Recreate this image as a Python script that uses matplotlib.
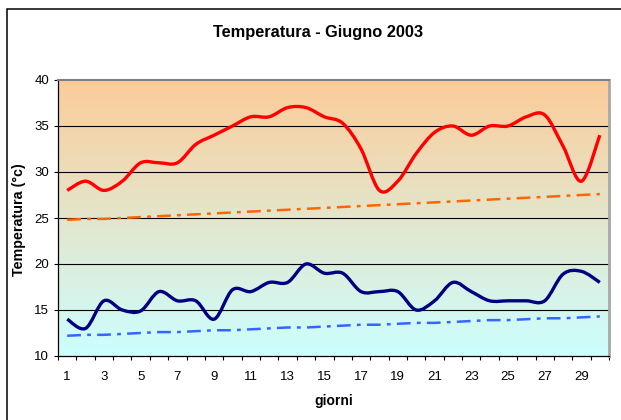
#!/usr/bin/env python3

import numpy as np
import matplotlib
matplotlib.use('Agg')
import matplotlib.pyplot as plt
from matplotlib.path import Path
from matplotlib.patches import PathPatch, Rectangle
from matplotlib.colors import LinearSegmentedColormap

# temperature giornaliere di giugno 2003
days = list(range(1, 31))
t_max = [28, 29, 28, 29, 31, 31, 31, 33, 34, 35,
         36, 36, 37, 37, 36, 35.3, 32.5, 28, 29, 32,
         34.3, 35, 34, 35, 35, 36, 36.2, 32.8, 29, 34]
t_min = [14, 13, 16, 15, 14.9, 17, 16, 16, 14, 17.2,
         17, 18, 18, 20, 19, 19, 17, 17, 17, 15,
         16, 18, 17, 16, 16, 16, 16, 18.9, 19.2, 18]
# valori medi di riferimento
norm_max = [24.8, 24.9, 24.9, 25.0, 25.1, 25.2, 25.3, 25.4, 25.5, 25.6,
            25.7, 25.8, 25.9, 26.0, 26.1, 26.2, 26.3, 26.4, 26.5, 26.6,
            26.7, 26.8, 26.9, 27.0, 27.1, 27.2, 27.3, 27.4, 27.5, 27.6]
norm_min = [12.2, 12.3, 12.3, 12.4, 12.5, 12.6, 12.6, 12.7, 12.8, 12.8,
            12.9, 13.0, 13.1, 13.1, 13.2, 13.3, 13.4, 13.4, 13.5, 13.6,
            13.6, 13.7, 13.8, 13.9, 13.9, 14.0, 14.1, 14.1, 14.2, 14.3]
x_labels = [str(d) for d in days[::2]]

plt.rcParams['font.family'] = 'Liberation Sans'


def smooth_path(x, y):
    # bezier smoothing like the excel "smoothed line" option
    pts = np.column_stack([x, y]).astype(float)
    n = len(pts)
    verts = [pts[0]]
    codes = [Path.MOVETO]
    for i in range(n - 1):
        p_prev = pts[max(i - 1, 0)]
        p_next2 = pts[min(i + 2, n - 1)]
        c1 = pts[i] + (pts[i + 1] - p_prev) / 6
        c2 = pts[i + 1] - (p_next2 - pts[i]) / 6
        verts += [c1, c2, pts[i + 1]]
        codes += [Path.CURVE4] * 3
    return Path(verts, codes)


fig = plt.figure(figsize=(6.21, 4.2), dpi=100)
ax = fig.add_axes([58 / 621, 64 / 420, 551 / 621, 276 / 420])

# background gradient
bg = LinearSegmentedColormap.from_list('bg', ['#CCFFFF', '#FCCC99'])
ax.imshow(np.linspace(0, 1, 256).reshape(-1, 1), origin='lower',
          extent=[0.5, 30.5, 10, 40], aspect='auto', cmap=bg, zorder=0)

for y in range(15, 40, 5):
    ax.axhline(y, color='black', lw=0.8, zorder=1)

ax.plot(days, norm_max, color='#FF6600', lw=1.8,
        dashes=(5.5, 2.5, 1.5, 2.5), zorder=2)
ax.plot(days, norm_min, color='#3366FF', lw=1.8,
        dashes=(5.5, 2.5, 1.5, 2.5), zorder=2)
ax.add_patch(PathPatch(smooth_path(days, t_max), fill=False,
                       edgecolor='#FF0000', lw=2.4, zorder=3))
ax.add_patch(PathPatch(smooth_path(days, t_min), fill=False,
                       edgecolor='#000080', lw=2.4, zorder=3))

ax.set_xlim(0.5, 30.5)
ax.set_ylim(10, 40)
ax.set_yticks(range(10, 41, 5))
ax.set_xticks(days[::2])
ax.set_xticklabels(x_labels)
ax.set_xticks(np.arange(0.5, 31, 1), minor=True)
ax.tick_params(axis='y', direction='out', length=3, width=0.8,
               pad=3.5, labelsize=9.5)
ax.tick_params(axis='x', which='major', length=0, pad=11, labelsize=9.5)
ax.tick_params(axis='x', which='minor', direction='out', length=3,
               width=0.8)

ax.spines['left'].set_color('black')
ax.spines['bottom'].set_color('black')
ax.spines['left'].set_linewidth(0.9)
ax.spines['bottom'].set_linewidth(0.9)
ax.spines['top'].set_color('#808080')
ax.spines['top'].set_linewidth(1.5)
ax.spines['right'].set_color('#A8A8A8')
ax.spines['right'].set_linewidth(2)

fig.text(318 / 621, 1 - 32 / 420, 'Temperatura - Giugno 2003',
         ha='center', va='center', fontsize=11.8, fontweight='bold')
fig.text(334 / 621, 1 - 401 / 420, 'giorni', ha='center', va='center',
         fontsize=10, fontweight='bold')
fig.text(19 / 621, 1 - 220 / 420, 'Temperatura (°c)', ha='center',
         va='center', rotation=90, fontsize=10.3, fontweight='bold')

# outer chart frame
fig.patches.append(Rectangle((7 / 621, -0.1), 1.2, 1.1 - 9 / 420,
                             transform=fig.transFigure, fill=False,
                             edgecolor='black', lw=1.1))

fig.savefig('out.png', dpi=100)
